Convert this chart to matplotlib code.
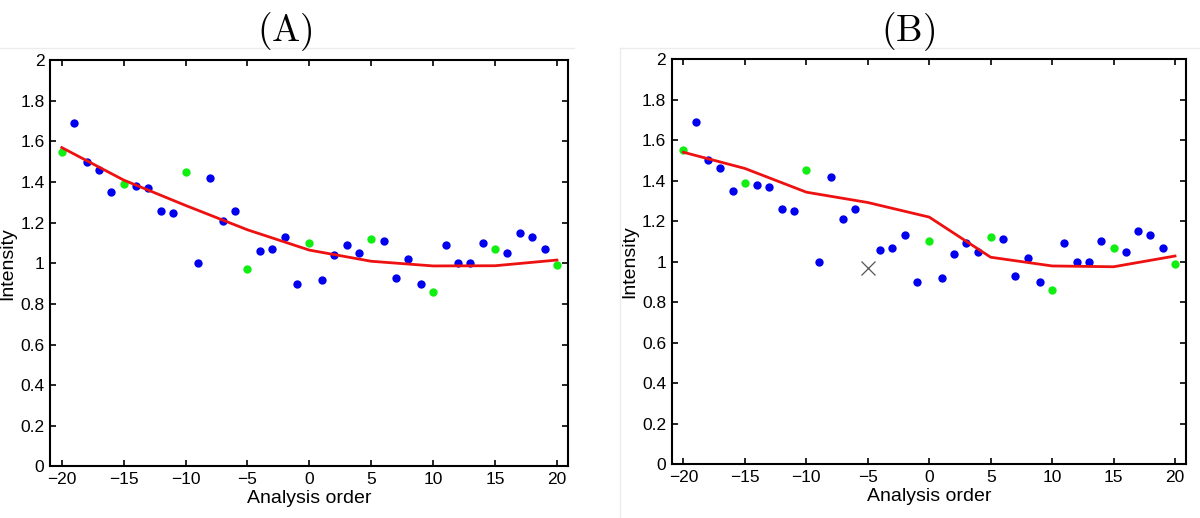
import matplotlib
matplotlib.use("Agg")
from matplotlib import pyplot as plt
from matplotlib.lines import Line2D
import numpy as np

plt.rcParams["font.family"] = ["Liberation Sans", "DejaVu Sans"]
plt.rcParams["mathtext.fontset"] = "cm"

# analysis order and measured intensity (same points in both panels)
order = np.arange(-20, 21)
intensity = [1.55, 1.69, 1.50, 1.46, 1.35, 1.39, 1.38, 1.37, 1.26, 1.25,
             1.45, 1.00, 1.42, 1.21, 1.26, 0.97, 1.06, 1.07, 1.13, 0.90,
             1.10, 0.92, 1.04, 1.09, 1.05, 1.12, 1.11, 0.93, 1.02, 0.90,
             0.86, 1.09, 1.00, 1.00, 1.10, 1.07, 1.05, 1.15, 1.13, 1.07, 0.99]
green_orders = [-20, -15, -10, -5, 0, 5, 10, 15, 20]
outlier_order = -5

# fitted curves
fit_x = [-20, -15, -10, -5, 0, 5, 10, 15, 20]
fit_a = [1.57, 1.41, 1.285, 1.165, 1.065, 1.01, 0.987, 0.988, 1.016]
fit_b = [1.54, 1.46, 1.343, 1.292, 1.220, 1.022, 0.979, 0.975, 1.028]

yticks = [0, 0.2, 0.4, 0.6, 0.8, 1, 1.2, 1.4, 1.6, 1.8, 2]
xticks = [-20, -15, -10, -5, 0, 5, 10, 15, 20]

fig = plt.figure(figsize=(12, 5.18), dpi=100)

# faint frames of the original images
frame = dict(transform=fig.transFigure, color="#ececec", lw=1)
fig.lines.append(Line2D([0, 0.478], [0.907, 0.907], **frame))
fig.lines.append(Line2D([0.517, 1], [0.907, 0.907], **frame))
fig.lines.append(Line2D([0.517, 0.517], [0, 0.907], **frame))

ax_a = fig.add_axes([0.0417, 0.0998, 0.4317, 0.7838])
ax_b = fig.add_axes([0.5598, 0.1035, 0.4286, 0.7826])

xs = np.array(order)
ys = np.array(intensity)
is_green = np.isin(xs, green_orders)

for ax, fit, skip in [(ax_a, fit_a, False), (ax_b, fit_b, True)]:
    blue = ~is_green
    green = is_green.copy()
    if skip:
        green &= xs != outlier_order
        ax.plot(outlier_order, ys[xs == outlier_order], "x", color="#555555",
                ms=10, mew=0.9)
    ax.plot(xs[blue], ys[blue], "o", color="#0000ee", ms=6, mew=0)
    ax.plot(xs[green], ys[green], "o", color="#11ee11", ms=6, mew=0)
    ax.plot(fit_x, fit, "-", color="#ee1111", lw=2)

    ax.set_xlim(-20.95, 20.9)
    ax.set_ylim(0, 2)
    ax.set_xticks(xticks)
    ax.set_yticks(yticks)
    ax.set_yticklabels(["%g" % t for t in yticks])
    ax.tick_params(direction="in", top=True, right=True, length=4, width=1.2,
                   labelsize=12.5, pad=4)
    for s in ax.spines.values():
        s.set_linewidth(1.5)
    ax.set_xlabel("Analysis order", fontsize=14, labelpad=2)
    ax.set_ylabel("Intensity", fontsize=14, labelpad=3)

fig.text(0.2375, 0.94, r"$\mathrm{(A)}$", ha="center", va="center", fontsize=27)
fig.text(0.757, 0.94, r"$\mathrm{(B)}$", ha="center", va="center", fontsize=27)

fig.savefig("out.png", dpi=100)
